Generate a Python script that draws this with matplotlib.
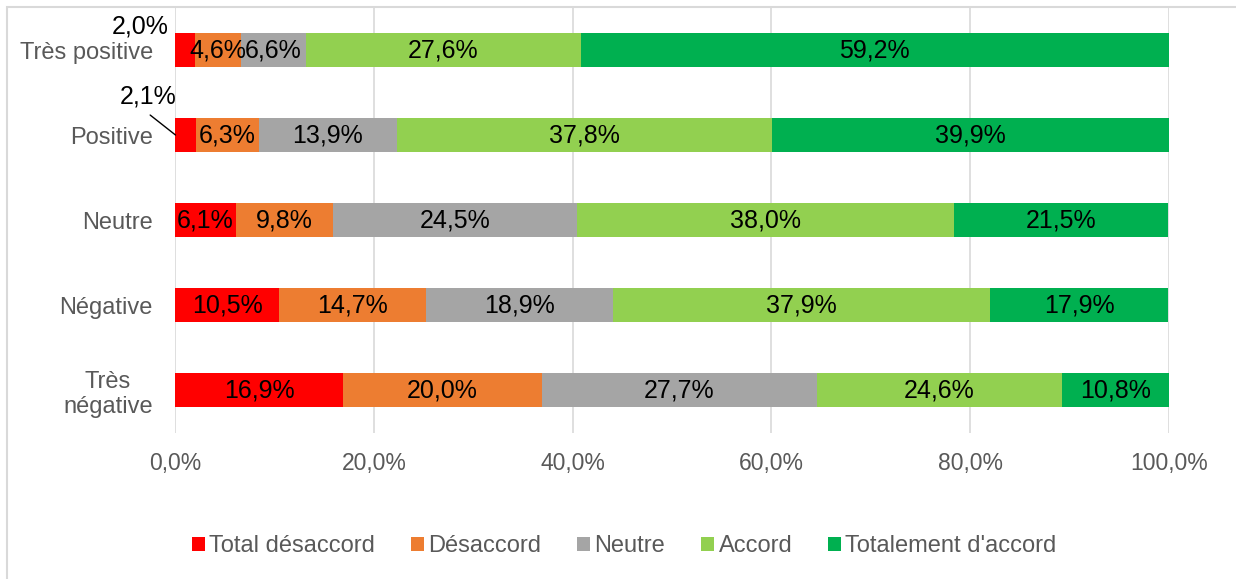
import numpy as np
import matplotlib.pyplot as plt
from matplotlib.patches import Rectangle
from matplotlib.ticker import FuncFormatter

plt.rcParams["font.family"] = ["Liberation Sans", "DejaVu Sans"]

# ----------------------------
# Data
# ----------------------------
categories = ["Très positive", "Positive", "Neutre", "Négative", "Très\nnégative"]
series_names = ["Total désaccord", "Désaccord", "Neutre", "Accord", "Totalement d'accord"]
total_desaccord = [2.0, 2.1, 6.1, 10.5, 16.9]
desaccord = [4.6, 6.3, 9.8, 14.7, 20.0]
neutre = [6.6, 13.9, 24.5, 18.9, 27.7]
accord = [27.6, 37.8, 38.0, 37.9, 24.6]
totalement = [59.2, 39.9, 21.5, 17.9, 10.8]

colors = ["#FF0000", "#ED7D31", "#A5A5A5", "#92D050", "#00B050"]
series = [total_desaccord, desaccord, neutre, accord, totalement]

def fmt(v):
    return f"{v:.1f}%".replace(".", ",")

# ----------------------------
# Plot
# ----------------------------
fig = plt.figure(figsize=(12.36, 5.79), dpi=100)
ax = fig.add_axes([0.1416, 0.253, 0.8042, 0.734])

y = np.arange(len(categories))
left = np.zeros(len(categories))
for name, vals, col in zip(series_names, series, colors):
    vals = np.array(vals)
    ax.barh(y, vals, left=left, height=0.4, color=col, label=name, zorder=3)
    for i, (l, v) in enumerate(zip(left, vals)):
        # the two tiny red slices at the top get outside labels
        if name == "Total désaccord" and i in (0, 1):
            continue
        ax.text(l + v / 2, y[i], fmt(v), ha="center", va="center",
                fontsize=18, color="black", zorder=4)
    left += vals

# outside labels for the small slices
ax.text(-3.5, -0.28, fmt(total_desaccord[0]), ha="center", va="center",
        fontsize=18, clip_on=False, zorder=5)
ax.text(-2.7, 0.55, fmt(total_desaccord[1]), ha="center", va="center",
        fontsize=18, clip_on=False)
ax.annotate("", xy=(0.05, 1.0), xytext=(-2.5, 0.765), annotation_clip=False,
            arrowprops=dict(arrowstyle="-", color="black", lw=1,
                            shrinkA=0, shrinkB=0))

ax.set_ylim(len(categories) - 0.5, -0.5)
ax.set_xlim(0, 100)
ax.set_xticks(np.arange(0, 101, 20))
ax.xaxis.set_major_formatter(FuncFormatter(lambda v, p: fmt(v)))
ax.set_yticks(y)
ax.set_yticklabels(categories)
ax.tick_params(axis="both", length=0, labelsize=16.5, colors="#595959")
ax.tick_params(axis="y", labelsize=17, pad=16)
ax.tick_params(axis="x", pad=14)
for lab in ax.get_yticklabels():
    lab.set_multialignment("center")
ax.grid(axis="x", color="#D9D9D9", lw=1.2, zorder=0)
for s in ax.spines.values():
    s.set_visible(False)

leg = fig.legend(loc="center", bbox_to_anchor=(0.505, 0.057), ncol=5, frameon=False,
                 fontsize=17, handlelength=0.55, handleheight=0.55,
                 handletextpad=0.2, columnspacing=1.5)
for t in leg.get_texts():
    t.set_color("#595959")

# light frame round the chart area
fig.patches.append(Rectangle((7 / 1236, -0.05), 1.2, 1 - 7 / 579 + 0.05,
                             transform=fig.transFigure, fill=False,
                             edgecolor="#D9D9D9", lw=1.5))

fig.savefig("out.png", dpi=100)
